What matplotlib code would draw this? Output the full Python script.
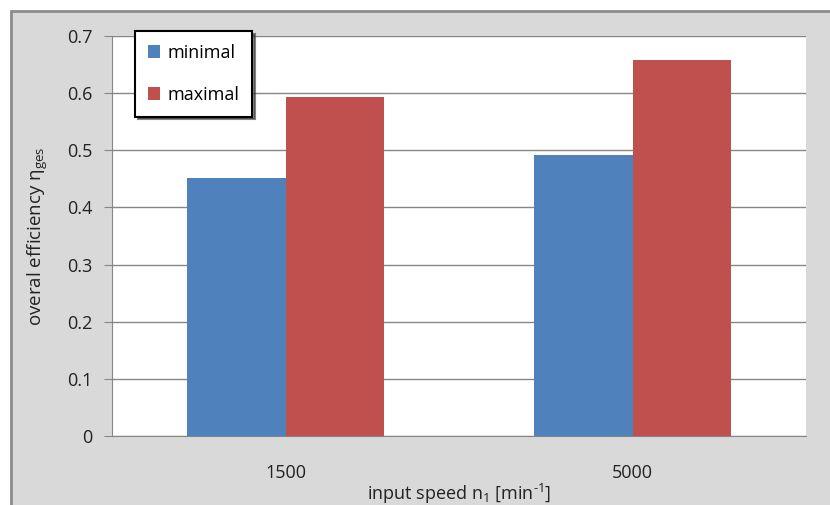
import matplotlib.pyplot as plt
from matplotlib.patches import Rectangle

# data
speeds = ['1500', '5000']
minimal = [0.452, 0.492]
maximal = [0.594, 0.658]

plt.rcParams['font.family'] = ['Open Sans', 'DejaVu Sans']
plt.rcParams['mathtext.fontset'] = 'custom'
plt.rcParams['mathtext.rm'] = 'Open Sans'
plt.rcParams['mathtext.it'] = 'Open Sans'

fig = plt.figure(figsize=(8.3, 5.05), dpi=100)
fig.patch.set_facecolor('white')
# grey chart area with border on top/left (as in the original)
fig.patches.append(Rectangle((11 / 830, -0.1), 1.2, 1 - 11 / 505 + 0.1,
                             transform=fig.transFigure, facecolor='#d9d9d9',
                             edgecolor='#8c8c8c', linewidth=2, zorder=-10))

ax = fig.add_axes([112 / 830, 1 - 436 / 505, (806 - 112) / 830, 400 / 505])
ax.set_zorder(5)
ax.set_facecolor('white')

x = range(len(speeds))
w = 0.285
ax.bar([i - w / 2 for i in x], minimal, w, color='#4f81bd', label='minimal', zorder=3)
ax.bar([i + w / 2 for i in x], maximal, w, color='#c0504d', label='maximal', zorder=3)

ax.set_xlim(-0.5, 1.5)
ax.set_ylim(0, 0.7)
ax.set_yticks([0, 0.1, 0.2, 0.3, 0.4, 0.5, 0.6, 0.7])
ax.set_yticklabels(['0', '0.1', '0.2', '0.3', '0.4', '0.5', '0.6', '0.7'])
ax.set_xticks(list(x))
ax.set_xticklabels(speeds)
ax.grid(axis='y', color='#868686', linewidth=1, zorder=0)
ax.set_axisbelow(True)
ax.tick_params(axis='y', length=6, color='#868686', labelsize=13, pad=8, labelcolor='#222222')
ax.tick_params(axis='x', length=0, labelsize=13, pad=20, labelcolor='#222222')
for s in ['top', 'right']:
    ax.spines[s].set_visible(False)
for s in ['left', 'bottom']:
    ax.spines[s].set_color('#868686')

ax.set_xlabel(r'input speed n$_1$ [min$^{\text{-}1}$]', fontsize=13, labelpad=0, color='#222222')
ax.set_ylabel(r'overal efficiency $\eta_{\mathrm{ges}}$', fontsize=13.5, labelpad=12, color='#222222')

leg = ax.legend(loc='upper left', bbox_to_anchor=(23 / 694, 1.0125), borderaxespad=0,
                frameon=True, fancybox=False, shadow={'color': '#333333', 'alpha': 0.6},
                edgecolor='black', fontsize=13, handlelength=0.7, handleheight=0.7,
                labelspacing=1.35, borderpad=0.7, handletextpad=0.4, framealpha=1)
leg.get_frame().set_linewidth(1.5)

fig.savefig('out.png', dpi=100)
